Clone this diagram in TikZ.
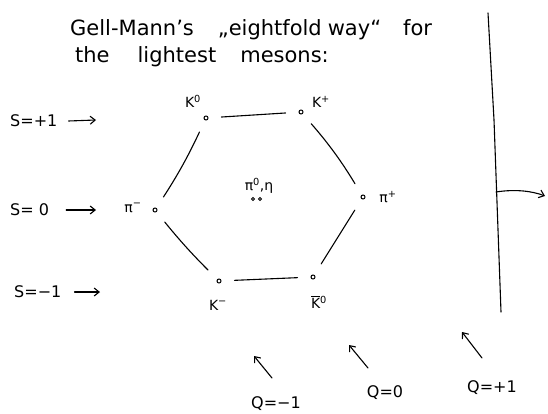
\documentclass[tikz,border=0pt]{standalone}
\usepackage{fontspec}
\setmainfont{DejaVu Sans}
\usetikzlibrary{arrows.meta}
\begin{document}
\begin{tikzpicture}[x=1pt,y=-1pt,
  hand/.style={line width=1.1pt, line cap=round},
  part/.style={circle, draw, line width=1pt, inner sep=0pt, minimum size=4pt},
  lab/.style={font=\fontsize{14}{14}\selectfont, inner sep=1pt},
  big/.style={font=\fontsize{21}{21}\selectfont, anchor=base west, inner sep=0pt},
  side/.style={font=\fontsize{16}{16}\selectfont, inner sep=1pt},
  arr/.style={hand, -{Straight Barb[length=5pt,width=8pt]}},
  edge/.style={hand, shorten <=13pt, shorten >=13pt}]
\useasboundingbox (0,0) rectangle (548,414);

% title
\node[big] (t1) at (70,36) {Gell-Mann's\hspace{24pt}„eightfold\hspace{6pt}way“\hspace{22pt}for};
\node[big] (t2) at (75,63) {the\hspace{28pt}lightest\hspace{24pt}mesons:};

% particles
\node[part] (K0)  at (206,118) {};
\node[part] (Kp)  at (301,112) {};
\node[part] (pim) at (155,210) {};
\node[part] (pip) at (363,197) {};
\node[part] (Km)  at (219,281) {};
\node[part] (K0b) at (313,277) {};
\node[part, minimum size=3pt] (pi0) at (253,199) {};
\node[part, minimum size=3pt] (eta) at (260,199) {};

% particle labels
\node[lab] (lK0)  at (193,101) {K\textsuperscript{0}};
\node[lab] (lKp)  at (321,102) {K\textsuperscript{+}};
\node[lab] (lpim) at (133,208) {π\textsuperscript{−}};
\node[lab] (lpip) at (388,197) {π\textsuperscript{+}};
\node[lab] (lKm)  at (218,305) {K\textsuperscript{−}};
\node[lab] (lK0b) at (319,302) {$\overline{\hbox{K}}$\textsuperscript{0}};
\node[lab] (lc)   at (259,186) {π\textsuperscript{0},η};

% hexagon edges
\draw[edge] (K0) -- (Kp);
\draw[edge] (K0) to[bend left=4] (pim);
\draw[edge] (pim) to[bend right=3] (Km);
\draw[edge] (Km) -- (K0b);
\draw[edge] (K0b) -- (pip);
\draw[edge] (Kp) to[bend left=5] (pip);

% strangeness labels
\node[side, anchor=west] (s1) at (9,121) {S=+1};
\node[side, anchor=west] (s0) at (9,210) {S= 0};
\node[side, anchor=west] (sm) at (13,292) {S=−1};
\coordinate (a1) at (96,120);
\coordinate (a0) at (96,210);
\coordinate (am) at (100,292);
\draw[arr] (s1.east)++(10,0) -- (a1);
\draw[arr] (s0.east)++(16,0) -- (a0);
\draw[arr] (sm.east)++(12,0) -- (am);

% charge labels
\node[side] (qm) at (276,404) {Q=−1};
\node[side] (q0) at (385,393) {Q=0};
\node[side] (qp) at (492,388) {Q=+1};
\coordinate (bm) at (254,356);
\coordinate (b0) at (349,345);
\coordinate (bp) at (462,332);
\draw[arr] (272,378) -- (bm);
\draw[arr] (368,368) -- (b0);
\draw[arr] (482,358) -- (bp);

% vertical line with arrow
\coordinate (vtop) at (488,13);
\coordinate (vmid) at (494,120);
\coordinate (vbot) at (501,312);
\coordinate (vj) at (496,192);
\coordinate (ve) at (545,196);
\draw[hand] (vtop) -- (vmid) -- (vbot);
\draw[arr] (vj) .. controls (515,189) and (532,191) .. (ve);
\end{tikzpicture}
\end{document}
